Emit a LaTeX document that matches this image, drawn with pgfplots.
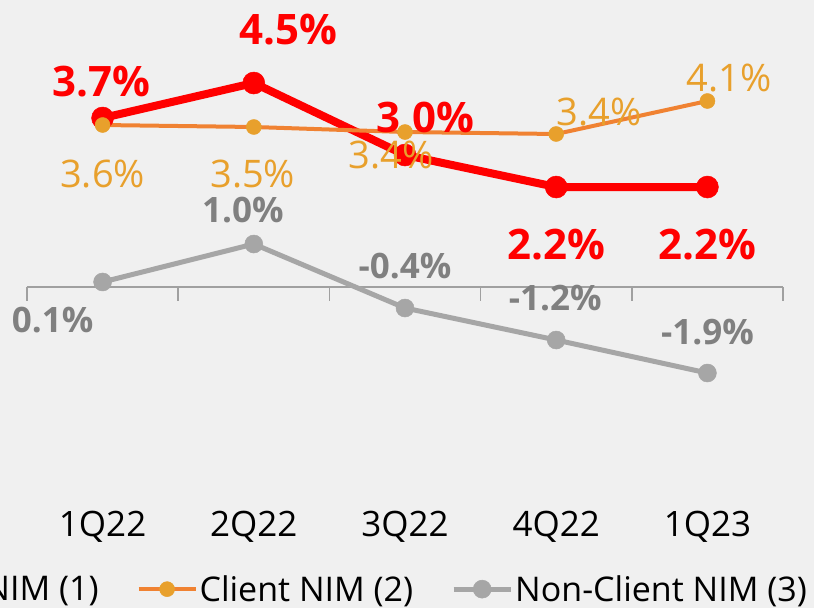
\documentclass[border=0pt]{standalone}
\usepackage{fontspec}
\setmainfont{Open Sans}
\usepackage{pgfplots}
\pgfplotsset{compat=1.18}
\definecolor{bg}{HTML}{F0F0F0}
\definecolor{nimred}{HTML}{FF0000}
\definecolor{cline}{HTML}{F08232}
\definecolor{cmark}{HTML}{E8A02C}
\definecolor{gline}{HTML}{A6A6A6}
\definecolor{glabel}{HTML}{808080}
\definecolor{axgrey}{HTML}{A0A0A0}
\begin{document}
\begin{tikzpicture}
\useasboundingbox (0,0) rectangle (814pt,608pt);
\clip (0,0) rectangle (814pt,608pt);
\fill[bg] (0,0) rectangle (814pt,608pt);
\begin{axis}[
  at={(27pt,0pt)}, anchor=south west,
  scale only axis, width=756pt, height=608pt,
  xmin=-0.5, xmax=4.5, ymin=-7.102, ymax=6.350,
  axis line style={draw=none}, tick style={draw=none},
  ytick=\empty, xtick={0,1,2,3,4},
  xticklabels={1Q22,2Q22,3Q22,4Q22,1Q23},
  xticklabel style={anchor=center, yshift=81pt, font=\fontsize{35}{40}\selectfont, text=black},
  clip=false,
  point meta=explicit symbolic,
  visualization depends on={value \thisrow{dx} \as \dx},
  visualization depends on={value \thisrow{dy} \as \dy},
  nodes near coords={\pgfplotspointmeta\%},
  nodes near coords style={anchor=center, xshift=\dx pt, yshift=\dy pt, inner sep=0pt},
  legend columns=-1,
  legend style={at={(1.0384,0.031)}, anchor=east, draw=none, fill=none,
    font=\fontsize{34}{40}\selectfont, text=black,
    nodes={inner sep=2pt},
    /tikz/every even column/.append style={column sep=36pt}},
  legend image code/.code={\draw[mark repeat=2, mark phase=2, #1] plot coordinates {(0pt,0pt) (28.5pt,0pt) (57pt,0pt)};},
]
\draw[axgrey, line width=1.5pt] (axis cs:-0.5,0) -- (axis cs:4.5,0);
\draw[axgrey, line width=1.5pt] (axis cs:-0.5,0) -- (axis cs:-0.5,-0.31);
\draw[axgrey, line width=1.5pt] (axis cs:0.5,0) -- (axis cs:0.5,-0.31);
\draw[axgrey, line width=1.5pt] (axis cs:1.5,0) -- (axis cs:1.5,-0.31);
\draw[axgrey, line width=1.5pt] (axis cs:2.5,0) -- (axis cs:2.5,-0.31);
\draw[axgrey, line width=1.5pt] (axis cs:3.5,0) -- (axis cs:3.5,-0.31);
\draw[axgrey, line width=1.5pt] (axis cs:4.5,0) -- (axis cs:4.5,-0.31);

\addplot[nimred, line width=8pt, line join=round, mark=*, mark size=11pt,
  mark options={solid, fill=nimred, draw=nimred, line width=0.5pt},
  nodes near coords style={font=\bfseries\fontsize{42}{44}\selectfont, text=nimred}]
  table[x=x, y=y, meta=l] {
x y dx dy l
0 3.739 -1 36 3.7
1 4.513 35 53 4.5
2 2.920 20 37 3.0
3 2.212 0 -58 2.2
4 2.212 0 -58 2.2
};
\addlegendentry{NIM (1)}

\addplot[cline, line width=4pt, line join=round, mark=*, mark size=7.5pt,
  mark options={solid, fill=cmark, draw=cmark, line width=0.5pt},
  nodes near coords style={font=\fontsize{38}{42}\selectfont, text=cmark}]
  table[x=x, y=y, meta=l] {
x y dx dy l
0 3.584 0 -49 3.6
1 3.540 -1 -47 3.5
2 3.429 -14 -23 3.4
3 3.385 43 22 3.4
4 4.115 22 23 4.1
};
\addlegendentry{Client NIM (2)}

\addplot[gline, line width=5pt, line join=round, mark=*, mark size=9pt,
  mark options={solid, fill=gline, draw=gline, line width=0.5pt},
  nodes near coords style={font=\bfseries\fontsize{35}{40}\selectfont, text=glabel}]
  table[x=x, y=y, meta=l] {
x y dx dy l
0 0.111 -50 -38 0.1
1 0.951 -11 34 1.0
2 -0.465 0 42 -0.4
3 -1.173 -1 42 -1.2
4 -1.903 0 41 -1.9
};
\addlegendentry{Non-Client NIM (3)}
\end{axis}
\end{tikzpicture}
\end{document}
